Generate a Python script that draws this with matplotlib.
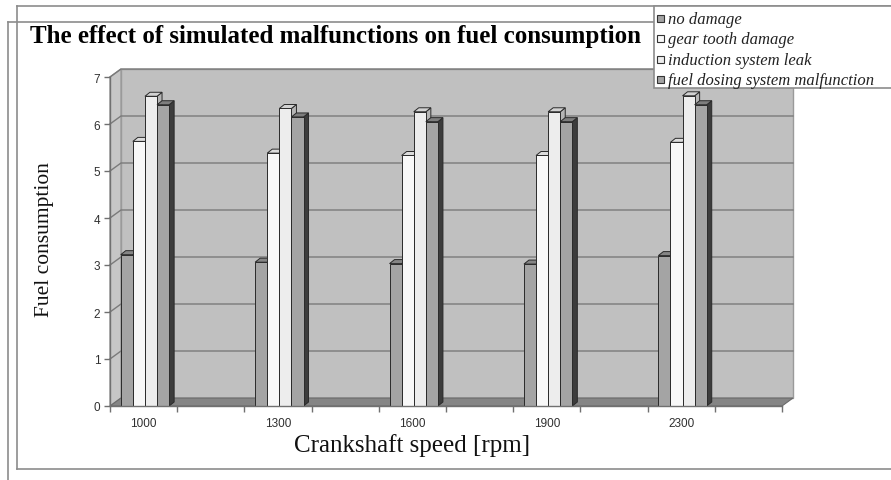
import matplotlib
matplotlib.use('Agg')
import matplotlib.pyplot as plt
from matplotlib.patches import Polygon, Rectangle
from matplotlib.lines import Line2D

# data
speeds = ['1000', '1300', '1600', '1900', '2300']
series_names = ['no damage', 'gear tooth damage', 'induction system leak',
                'fuel dosing system malfunction']
no_damage = [3.22, 3.06, 3.03, 3.02, 3.20]
gear_tooth = [5.63, 5.38, 5.33, 5.33, 5.61]
induction_leak = [6.59, 6.33, 6.26, 6.26, 6.60]
fuel_dosing = [6.41, 6.15, 6.05, 6.05, 6.41]
y_ticks = [0, 1, 2, 3, 4, 5, 6, 7]

# face / top / side colours per series (grayscale Excel look)
face_colors = ['#a4a4a4', '#f8f8f8', '#ededed', '#a4a4a4']
top_colors = ['#858585', '#dcdcdc', '#d2d2d2', '#7e7e7e']
side_colors = ['#555555', '#bdbdbd', '#b5b5b5', '#3c3c3c']

W, H = 891, 481
fig = plt.figure(figsize=(W / 100, H / 100), dpi=100)


def fx(px):
    return px / W


def fy(py):
    return 1 - py / H


# front plane of the 3D box
ax_l, ax_r, ax_b, ax_t = 110, 782, 407, 78
ax = fig.add_axes([fx(ax_l), fy(ax_b), (ax_r - ax_l) / W, (ax_b - ax_t) / H])
n_slots = 10
ax.set_xlim(0, n_slots)
ax.set_ylim(0, 7)
ax.patch.set_visible(False)

px_x = (ax_r - ax_l) / n_slots
px_y = (ax_b - ax_t) / 7.0
dxw, dyw = 11 / px_x, 8 / px_y      # depth of the walls
dxb, dyb = 5 / px_x, 4 / px_y       # depth of each bar

# back wall, side wall, floor
ax.add_patch(Polygon([(dxw, dyw), (n_slots + dxw, dyw), (n_slots + dxw, 7 + dyw), (dxw, 7 + dyw)],
                     closed=True, facecolor='#c0c0c0', edgecolor='#9a9a9a', lw=1, clip_on=False, zorder=0))
ax.add_patch(Polygon([(0, 0), (dxw, dyw), (dxw, 7 + dyw), (0, 7)],
                     closed=True, facecolor='#c6c6c6', edgecolor='#9a9a9a', lw=1, clip_on=False, zorder=0))
ax.add_patch(Polygon([(0, 0), (n_slots, 0), (n_slots + dxw, dyw), (dxw, dyw)],
                     closed=True, facecolor='#858585', edgecolor='#6a6a6a', lw=0.8, clip_on=False, zorder=0.5))
for v in y_ticks[1:]:
    ax.plot([0, dxw, n_slots + dxw], [v, v + dyw, v + dyw], color='#7a7a7a', lw=1,
            clip_on=False, zorder=0.3)

# bars
values = [no_damage, gear_tooth, induction_leak, fuel_dosing]
bw = 0.18
for i in range(len(speeds)):
    center = 2 * i + 0.52
    for j, vals in enumerate(values):
        v = vals[i]
        x0 = center + (j - 2) * bw
        z = 2 + i * 0.01 + j * 0.001
        ax.add_patch(Polygon([(x0 + bw, 0), (x0 + bw + dxb, dyb), (x0 + bw + dxb, v + dyb), (x0 + bw, v)],
                             closed=True, facecolor=side_colors[j], edgecolor='#2a2a2a', lw=0.7,
                             clip_on=False, zorder=z))
        ax.add_patch(Polygon([(x0, v), (x0 + bw, v), (x0 + bw + dxb, v + dyb), (x0 + dxb, v + dyb)],
                             closed=True, facecolor=top_colors[j], edgecolor='#2a2a2a', lw=0.7,
                             clip_on=False, zorder=z))
        ax.add_patch(Rectangle((x0, 0), bw, v, facecolor=face_colors[j], edgecolor='#2a2a2a', lw=0.7,
                               clip_on=False, zorder=z))

# axes lines / ticks
for s in ['top', 'right']:
    ax.spines[s].set_visible(False)
for s in ['left', 'bottom']:
    ax.spines[s].set_color('#707070')
    ax.spines[s].set_linewidth(1)
    ax.spines[s].set_zorder(3)
ax.set_yticks(y_ticks)
ax.set_yticklabels([str(t) for t in y_ticks])
ax.set_xticks(range(n_slots + 1))
ax.set_xticklabels([])
ax.set_xticks([2 * i + 0.5 for i in range(len(speeds))], minor=True)
ax.set_xticklabels(speeds, minor=True)
ax.tick_params(axis='both', which='major', direction='out', length=4, color='#707070', width=1)
ax.tick_params(axis='x', which='minor', length=0, pad=8)
ax.tick_params(axis='y', pad=3)
for lab in ax.get_xticklabels(minor=True) + ax.get_yticklabels():
    lab.set_fontfamily('Liberation Sans')
    lab.set_fontsize(8.5)
    lab.set_color('#303030')

# titles
fig.text(fx(30), fy(37), 'The effect of simulated malfunctions on fuel consumption',
         family='Liberation Serif', weight='bold', fontsize=18, ha='left', va='center', color='black')
fig.text(fx(45), fy(240), 'Fuel consumption', family='Liberation Serif', fontsize=15.5,
         rotation=90, ha='center', va='center', color='#111111')
fig.text(fx(412), fy(446), 'Crankshaft speed [rpm]', family='Liberation Serif', fontsize=18,
         ha='center', va='center', color='#111111')

# frame lines
frame_kw = dict(transform=fig.transFigure, color='#8c8c8c', lw=1.2)
fig.add_artist(Line2D([fx(17), fx(W)], [fy(7), fy(7)], **frame_kw))
fig.add_artist(Line2D([fx(17), fx(17)], [fy(7), fy(470)], **frame_kw))
fig.add_artist(Line2D([fx(17), fx(W)], [fy(470), fy(470)], **frame_kw))
fig.add_artist(Line2D([fx(8), fx(654)], [fy(23), fy(23)], **frame_kw))
fig.add_artist(Line2D([fx(8), fx(8)], [fy(23), fy(H)], **frame_kw))

# legend box
fig.add_artist(Rectangle((fx(654), fy(89)), fx(W + 5) - fx(654), fy(7) - fy(89),
                         transform=fig.transFigure, facecolor='white', edgecolor='#8c8c8c',
                         lw=1.2, zorder=5))
legend_y = [19, 39, 60, 80]
for j, name in enumerate(series_names):
    fig.add_artist(Rectangle((fx(657), fy(legend_y[j] + 3.5)), 7 / W, 7 / H,
                             transform=fig.transFigure, facecolor=face_colors[j],
                             edgecolor='#333333', lw=0.8, zorder=6))
    fig.text(fx(668), fy(legend_y[j] + 1), name, family='Liberation Serif', style='italic',
             fontsize=12, ha='left', va='center', color='#222222', zorder=6)

fig.savefig('out.png', dpi=100)
